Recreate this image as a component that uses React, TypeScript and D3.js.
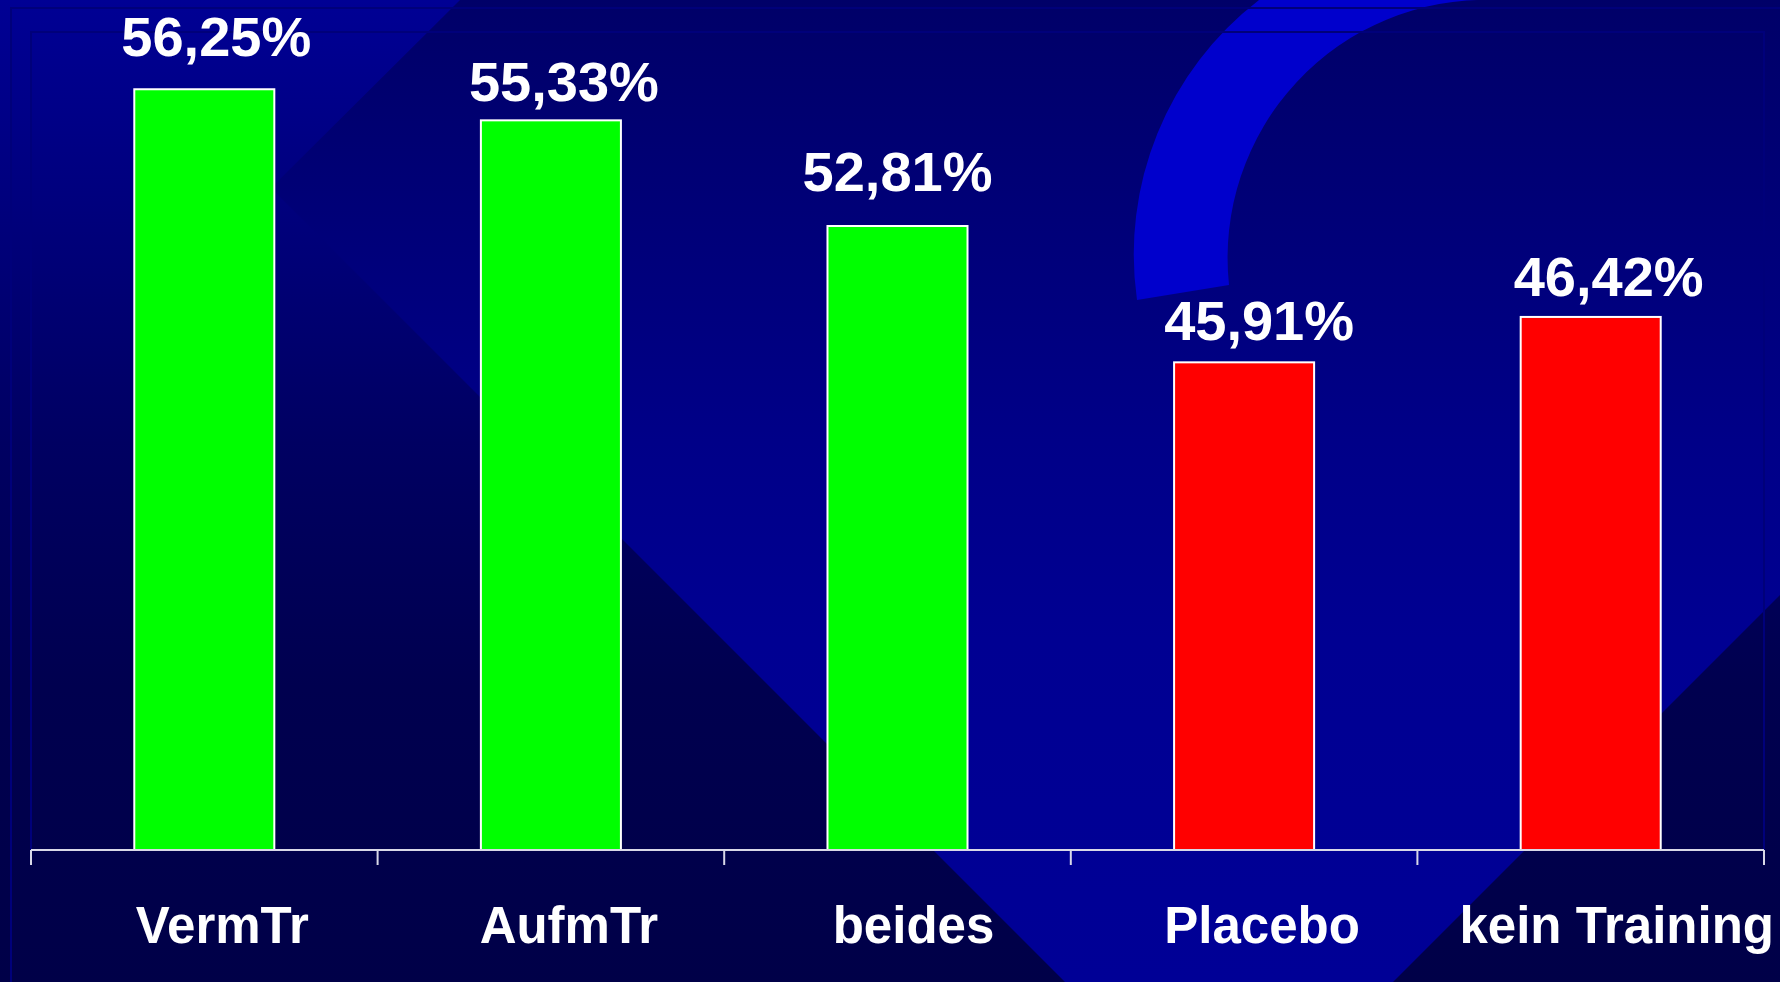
import React from "react";
import * as d3 from "d3";

// ---- data ----
const categories = ["VermTr", "AufmTr", "beides", "Placebo", "kein Training"];
const barValues = [55.8, 53.52, 45.77, 35.77, 39.1]; // bar heights as plotted (axis 0..60)
const valueLabels = ["56,25%", "55,33%", "52,81%", "45,91%", "46,42%"];
const groups = ["training", "training", "training", "control", "control"];
const yDomain: [number, number] = [0, 60];

// ---- layout / style ----
const W = 1780;
const H = 982;
const plot = { left: 31, right: 1764, top: 32, bottom: 850 };
const colorOf: Record<string, string> = { training: "#00FF00", control: "#FF0000" };
// hand-placed label nudges in the original slide (px)
const labelNudge = [
  { dx: 12, gap: 33 },
  { dx: 13, gap: 19 },
  { dx: 0, gap: 35 },
  { dx: 15, gap: 22 },
  { dx: 18, gap: 21 },
];
const categoryNudge = [18, 18, 16, 18, 26];
const font = "'Liberation Sans', Arial, Helvetica, sans-serif";

export default function App() {
  const x = d3
    .scaleBand<string>()
    .domain(categories)
    .range([plot.left, plot.right])
    .paddingInner(0.596)
    .paddingOuter(0.298);
  const y = d3.scaleLinear().domain(yDomain).range([plot.bottom, plot.top]);
  const step = x.step();
  const tickXs = d3.range(categories.length + 1).map((i) => plot.left + i * step);

  // background geometry
  const chevron = [
    [460, 0],
    [W, 0],
    [W, 595],
    [1393, H],
    [1065, H],
    [271, 188],
  ];
  const chevronPath = d3.line()(chevron as [number, number][]) + "Z";
  const arcPath =
    "M1137,300 A321,321 0 0 1 1259,0 L1494,0 A258,258 0 0 0 1229,285 Z";

  return (
    <svg
      width={W}
      height={H}
      style={{ position: "absolute", left: 0, top: 0, display: "block" }}
      xmlns="http://www.w3.org/2000/svg"
    >
      <defs>
        <linearGradient id="gA" x1="0" y1="0" x2="0" y2="1">
          <stop offset="0" stopColor="#000094" />
          <stop offset="0.45" stopColor="#000062" />
          <stop offset="0.7" stopColor="#00004F" />
          <stop offset="1" stopColor="#000048" />
        </linearGradient>
        <linearGradient id="gB" x1="0" y1="0" x2="0" y2="1">
          <stop offset="0" stopColor="#000068" />
          <stop offset="0.45" stopColor="#000088" />
          <stop offset="0.65" stopColor="#000092" />
          <stop offset="1" stopColor="#000096" />
        </linearGradient>
      </defs>

      {/* background */}
      <rect x={0} y={0} width={W} height={H} fill="url(#gA)" />
      <path d={chevronPath} fill="url(#gB)" />
      <path d={arcPath} fill="#0000CC" />

      {/* faint frame lines */}
      <rect x={11} y={8} width={W + 20} height={H + 20} fill="none" stroke="#00007A" strokeWidth={2} />
      <rect
        x={plot.left}
        y={plot.top}
        width={plot.right - plot.left}
        height={plot.bottom - plot.top}
        fill="none"
        stroke="#00007A"
        strokeWidth={2}
      />

      {/* bars */}
      {categories.map((c, i) => (
        <rect
          key={c}
          x={x(c)}
          y={y(barValues[i])}
          width={x.bandwidth()}
          height={y(yDomain[0]) - y(barValues[i])}
          fill={colorOf[groups[i]]}
          stroke="#FFFFFF"
          strokeWidth={2}
        />
      ))}

      {/* axis */}
      <line x1={plot.left} x2={plot.right} y1={plot.bottom} y2={plot.bottom} stroke="#D8D8E8" strokeWidth={2} />
      {tickXs.map((tx, i) => (
        <line key={i} x1={tx} x2={tx} y1={plot.bottom} y2={plot.bottom + 15} stroke="#D8D8E8" strokeWidth={2} />
      ))}

      {/* value labels */}
      {categories.map((c, i) => (
        <text
          key={"v" + c}
          x={(x(c) as number) + x.bandwidth() / 2 + labelNudge[i].dx}
          y={y(barValues[i]) - labelNudge[i].gap}
          textAnchor="middle"
          fontFamily={font}
          fontWeight="bold"
          fontSize={56}
          fill="#FFFFFF"
        >
          {valueLabels[i]}
        </text>
      ))}

      {/* category labels */}
      {categories.map((c, i) => (
        <text
          key={"c" + c}
          x={(x(c) as number) + x.bandwidth() / 2 + categoryNudge[i]}
          y={943}
          textAnchor="middle"
          fontFamily={font}
          fontWeight="bold"
          fontSize={51}
          fill="#FFFFFF"
        >
          {c}
        </text>
      ))}
    </svg>
  );
}
